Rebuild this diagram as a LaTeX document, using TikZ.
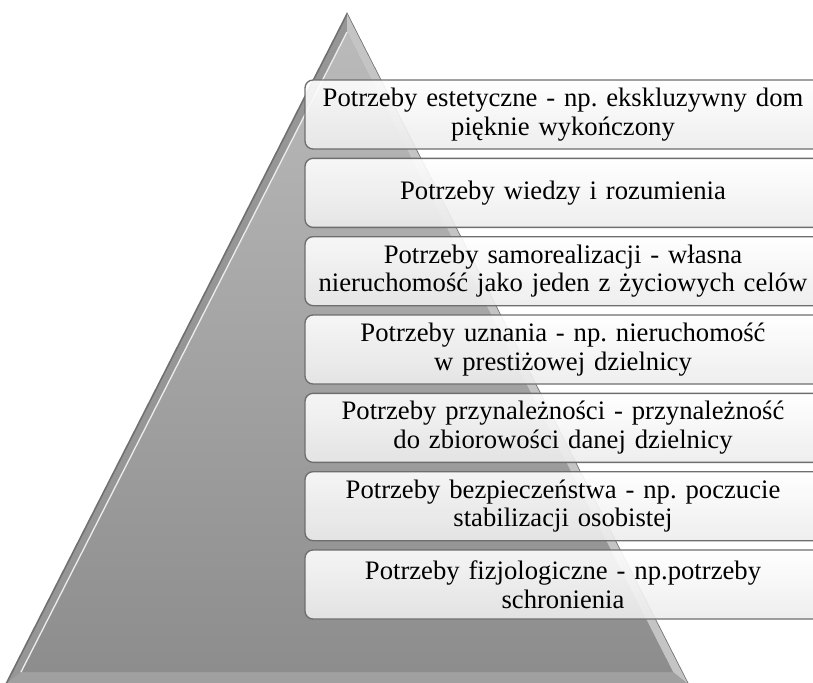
\documentclass[tikz,border=0pt]{standalone}
\usepackage{fontspec}
\setmainfont{Liberation Serif}
\frenchspacing
\usetikzlibrary{positioning, calc}
\definecolor{pyrdark}{RGB}{112,112,112}
\definecolor{pyrmid}{RGB}{150,150,150}
\definecolor{pyrright}{RGB}{196,196,196}
\definecolor{pyrbase}{RGB}{160,160,160}
\definecolor{pyrtop}{RGB}{186,186,186}
\definecolor{pyrbottom}{RGB}{141,141,141}
\definecolor{boxline}{RGB}{110,110,110}
\definecolor{boxshade}{RGB}{236,236,236}
\tikzset{
  level/.style={rectangle, minimum width=387pt, minimum height=51.75pt, text width=375pt, align=center, draw=boxline, top color=white, bottom color=boxshade, fill opacity=0.9, text opacity=1, font=\fontsize{20}{21.5}\selectfont, rounded corners=6pt, line width=1pt},
  bevel/.style={line width=1pt, draw=white!92!black},
}
\begin{document}
\begin{tikzpicture}[x=0.75pt, y=-0.75pt, node distance=6pt]
\clip (0,0) rectangle (813,682);
% pyramid
\fill[pyrmid, draw=pyrdark, line width=1.2pt] (347,14) -- (6,684) -- (688,684) -- cycle;
\fill[pyrright] (347,14) -- (688,684) -- (673,672) -- (347,32) -- cycle;
\fill[pyrbase] (6,684) -- (688,684) -- (673,672) -- (21,672) -- cycle;
\shade[top color=pyrtop, bottom color=pyrbottom] (347,32) -- (21,672) -- (673,672) -- cycle;
\draw[bevel] (347,32) -- (21,672);
% levels
\node (est) [level] at (563,114.5) {Potrzeby estetyczne - np. ekskluzywny dom\\ pięknie wykończony};
\node (wie) [level, below=of est] {Potrzeby wiedzy i rozumienia};
\node (sam) [level, below=of wie] {Potrzeby samorealizacji - własna\\ nieruchomość jako jeden z życiowych celów};
\node (uzn) [level, below=of sam] {Potrzeby uznania - np. nieruchomość\\ w prestiżowej dzielnicy};
\node (prz) [level, below=of uzn] {Potrzeby przynależności - przynależność\\ do zbiorowości danej dzielnicy};
\node (bez) [level, below=of prz] {Potrzeby bezpieczeństwa - np. poczucie\\ stabilizacji osobistej};
\node (fiz) [level, below=of bez] {Potrzeby fizjologiczne - np.potrzeby\\ schronienia};
\end{tikzpicture}
\end{document}
